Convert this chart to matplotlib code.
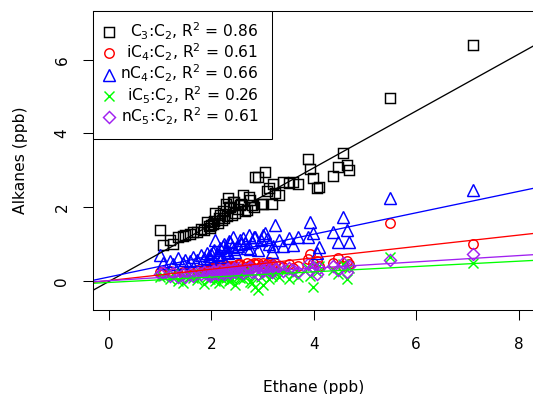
import matplotlib
matplotlib.use("Agg")
import matplotlib.pyplot as plt
from matplotlib.patches import Rectangle
from matplotlib.lines import Line2D

# ---------------- data ----------------
ethane = [1.00, 1.05, 1.20, 1.25, 1.35, 1.44, 1.49, 1.59, 1.64, 1.72,
          1.79, 1.85, 1.91, 1.98, 2.03, 2.08, 2.13, 2.17, 2.20, 2.24,
          2.28, 2.32, 2.37, 2.42, 2.47, 2.52, 2.57, 2.61, 2.69, 2.73,
          2.79, 2.86, 2.91, 2.96, 3.00, 3.05, 3.12, 3.18, 3.25, 3.32,
          3.40, 3.51, 3.59, 3.69, 3.88, 3.93, 3.98, 4.06, 4.10, 4.37,
          4.47, 4.57, 4.64, 4.68, 5.48, 7.10,
          1.95, 2.06, 2.15, 2.22, 2.30, 2.35, 2.44, 2.55, 2.65, 2.75,
          2.84, 3.08, 3.20, 2.00, 2.40]

c3 = [1.38, 0.97, 1.10, 1.00, 1.19, 1.22, 1.25, 1.28, 1.32, 1.32,
      1.40, 1.38, 1.60, 1.45, 1.55, 1.84, 1.57, 1.78, 1.65, 1.70,
      2.10, 2.24, 2.00, 2.14, 1.85, 1.95, 2.10, 2.32, 1.92, 2.27,
      2.05, 2.81, 2.81, 2.10, 2.10, 2.95, 2.51, 2.10, 2.40, 2.32,
      2.68, 2.65, 2.68, 2.62, 3.32, 3.03, 2.78, 2.51, 2.55, 2.86,
      3.10, 3.46, 3.14, 3.00, 4.97, 6.40,
      1.50, 1.62, 1.70, 1.90, 1.75, 2.00, 2.15, 2.05, 1.90, 2.20,
      2.02, 2.45, 2.62, 1.52, 1.80]

ic4 = [0.25, 0.20, 0.28, 0.22, 0.18, 0.25, 0.22, 0.28, 0.20, 0.30,
       0.25, 0.32, 0.28, 0.35, 0.30, 0.38, 0.28, 0.40, 0.33, 0.36,
       0.30, 0.42, 0.35, 0.38, 0.32, 0.45, 0.40, 0.36, 0.48, 0.42,
       0.38, 0.45, 0.50, 0.40, 0.48, 0.42, 0.52, 0.45, 0.50, 0.40,
       0.38, 0.45, 0.35, 0.42, 0.60, 0.72, 0.50, 0.55, 0.42, 0.48,
       0.62, 0.40, 0.55, 0.45, 1.57, 1.00,
       0.30, 0.38, 0.33, 0.45, 0.40, 0.35, 0.42, 0.47, 0.38, 0.44,
       0.50, 0.46, 0.40, 0.35, 0.41]

nc4 = [0.70, 0.50, 0.55, 0.45, 0.62, 0.50, 0.58, 0.55, 0.65, 0.58,
       0.70, 0.62, 0.75, 0.60, 0.80, 1.10, 0.70, 0.90, 0.65, 1.00,
       0.85, 0.75, 1.05, 1.19, 0.80, 0.95, 1.00, 1.16, 0.90, 1.24,
       1.05, 1.19, 0.85, 1.10, 1.25, 1.30, 1.00, 0.80, 1.51, 1.10,
       0.95, 1.16, 0.97, 1.20, 1.19, 1.60, 1.30, 0.76, 0.92, 1.32,
       1.05, 1.73, 1.38, 1.05, 2.24, 2.46,
       0.68, 0.85, 0.72, 0.95, 0.78, 1.08, 0.88, 1.12, 1.02, 0.88,
       1.20, 1.15, 0.95, 0.72, 0.92]

ic5 = [0.10, 0.15, 0.05, 0.20, 0.00, -0.05, 0.15, 0.10, 0.08, 0.02,
       0.18, -0.08, 0.12, 0.05, 0.20, 0.00, 0.10, 0.15, 0.05, 0.25,
       0.08, 0.12, 0.02, 0.18, -0.10, 0.10, 0.20, 0.05, 0.15, 0.25,
       -0.05, -0.15, -0.25, 0.10, -0.10, 0.20, 0.05, 0.15, 0.25, 0.10,
       0.30, 0.05, 0.20, 0.10, 0.35, 0.15, -0.15, 0.25, 0.40, 0.30,
       0.20, 0.45, 0.05, 0.35, 0.65, 0.49,
       0.05, 0.15, -0.05, 0.12, 0.22, 0.00, 0.18, 0.08, 0.28, -0.02,
       0.15, 0.30, 0.18, 0.22, 0.05]

nc5 = [0.20, 0.25, 0.15, 0.22, 0.12, 0.18, 0.10, 0.20, 0.15, 0.22,
       0.18, 0.25, 0.20, 0.15, 0.28, 0.22, 0.18, 0.30, 0.25, 0.20,
       0.28, 0.32, 0.22, 0.30, 0.25, 0.35, 0.28, 0.22, 0.30, 0.36,
       0.25, 0.30, 0.20, 0.35, 0.28, 0.38, 0.30, 0.25, 0.32, 0.40,
       0.28, 0.35, 0.30, 0.25, 0.45, 0.30, 0.38, 0.20, 0.35, 0.42,
       0.30, 0.50, 0.25, 0.40, 0.57, 0.73,
       0.22, 0.26, 0.30, 0.24, 0.33, 0.28, 0.35, 0.26, 0.32, 0.38,
       0.28, 0.34, 0.40, 0.18, 0.27]

# linear fits (slope, intercept) as shown in the chart
fit_slopes = [0.770, 0.154, 0.290, 0.072, 0.085]
fit_intercepts = [-0.01, 0.013, 0.11, -0.038, 0.01]

labels = [r"C$_3$:C$_2$, R$^2$ = 0.86",
          r"iC$_4$:C$_2$, R$^2$ = 0.61",
          r"nC$_4$:C$_2$, R$^2$ = 0.66",
          r"iC$_5$:C$_2$, R$^2$ = 0.26",
          r"nC$_5$:C$_2$, R$^2$ = 0.61"]

x_ticks = [0, 2, 4, 6, 8]
y_ticks = [0, 2, 4, 6]

# ---------------- style ----------------
series = [c3, ic4, nc4, ic5, nc5]
colors = ["black", "#FF0000", "#0000FF", "#00FF00", "#A020F0"]
markers = ["s", "o", "^", "x", "D"]
msizes = [6.8, 6.8, 8.2, 7.0, 6.0]

W, H = 533, 394
fig = plt.figure(figsize=(W / 100, H / 100), dpi=100)
ax_l, ax_r, ax_t, ax_b = 92.6, 535.0, 11.0, 310.0
ax = fig.add_axes([ax_l / W, 1 - ax_b / H, (ax_r - ax_l) / W, (ax_b - ax_t) / H])

for ys, c, m, ms in zip(series, colors, markers, msizes):
    ax.plot(ethane, ys, linestyle="none", marker=m, markersize=ms,
            markerfacecolor="none", markeredgecolor=c, markeredgewidth=1.05,
            clip_on=True)

for s, b, c in zip(fit_slopes, fit_intercepts, colors):
    ax.axline((0, b), slope=s, color=c, lw=0.95)

ax.set_xlim(-0.32, 8.32)
ax.set_ylim(-0.785, 7.32)
ax.set_xticks(x_ticks)
ax.set_yticks(y_ticks)
ax.set_xticklabels([str(v) for v in x_ticks])
ax.set_yticklabels([str(v) for v in y_ticks])
for sp in ax.spines.values():
    sp.set_linewidth(0.75)
ax.tick_params(axis="both", direction="out", length=7.2, width=0.75,
               labelsize=11, colors="black")
ax.tick_params(axis="x", pad=12.0)
ax.tick_params(axis="y", pad=9.5, labelrotation=90)
for t in ax.get_yticklabels():
    t.set_va("center")

ax.set_xlabel("Ethane (ppb)", fontsize=11.2)
ax.set_ylabel("Alkanes (ppb)", fontsize=11.2)
ax.xaxis.set_label_coords(0.5, -(380 - ax_b) / (ax_b - ax_t))
ax.yaxis.set_label_coords(-(ax_l - 27.7) / (ax_r - ax_l), 0.5)


# ---------------- legend (drawn manually, right-aligned text) ----------------
def fx(px):
    return px / W


def fy(py):
    return 1 - py / H


fig.add_artist(Rectangle((fx(92.6), fy(139)), fx(272) - fx(92.6), fy(11) - fy(139),
                         transform=fig.transFigure, facecolor="white",
                         edgecolor="black", lw=0.75, zorder=5))
row_base = [36.8, 58.2, 79.5, 100.9, 122.3]
for i, (lab, c, m, ms) in enumerate(zip(labels, colors, markers, msizes)):
    yb = row_base[i]
    fig.add_artist(Line2D([fx(109)], [fy(yb - 5)], transform=fig.transFigure,
                          linestyle="none", marker=m, markersize=ms,
                          markerfacecolor="none", markeredgecolor=c,
                          markeredgewidth=1.05, zorder=6))
    fig.text(fx(258.5), fy(yb), lab, ha="right", va="baseline",
             fontsize=11.2, zorder=6)

fig.savefig("out.png", dpi=100)
